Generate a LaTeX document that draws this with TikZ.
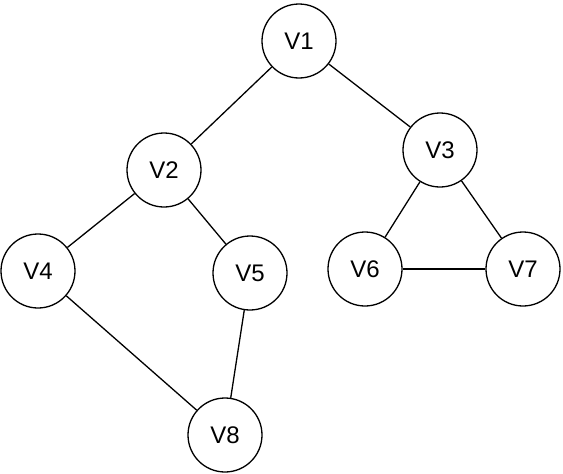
\documentclass[tikz,border=0pt]{standalone}
\usepackage{fontspec}
\setmainfont{Liberation Sans}
\begin{document}
\begin{tikzpicture}[x=1pt,y=-1pt,
  vert/.style={draw=black,line width=1.3pt,circle,minimum size=74pt,inner sep=0pt,fill=white,font=\fontsize{24}{28}\selectfont},
  edge/.style={draw=black,line width=1.3pt}]
\useasboundingbox (0,0) rectangle (563,474);
\node[vert] (v1) at (299,41) {V1};
\node[vert] (v2) at (164,170) {V2};
\node[vert] (v3) at (440,150) {V3};
\node[vert] (v4) at (38,271) {V4};
\node[vert] (v5) at (250,273) {V5};
\node[vert] (v6) at (365,269) {V6};
\node[vert] (v7) at (523,269) {V7};
\node[vert] (v8) at (225,435) {V8};
\draw[edge] (v1) -- (v2);
\draw[edge] (v1) -- (v3);
\draw[edge] (v2) -- (v4);
\draw[edge] (v2) -- (v5);
\draw[edge] (v3) -- (v6);
\draw[edge] (v3) -- (v7);
\draw[edge] (v6) -- (v7);
\draw[edge] (v4) -- (v8);
\draw[edge] (v5) -- (v8);
\end{tikzpicture}
\end{document}
